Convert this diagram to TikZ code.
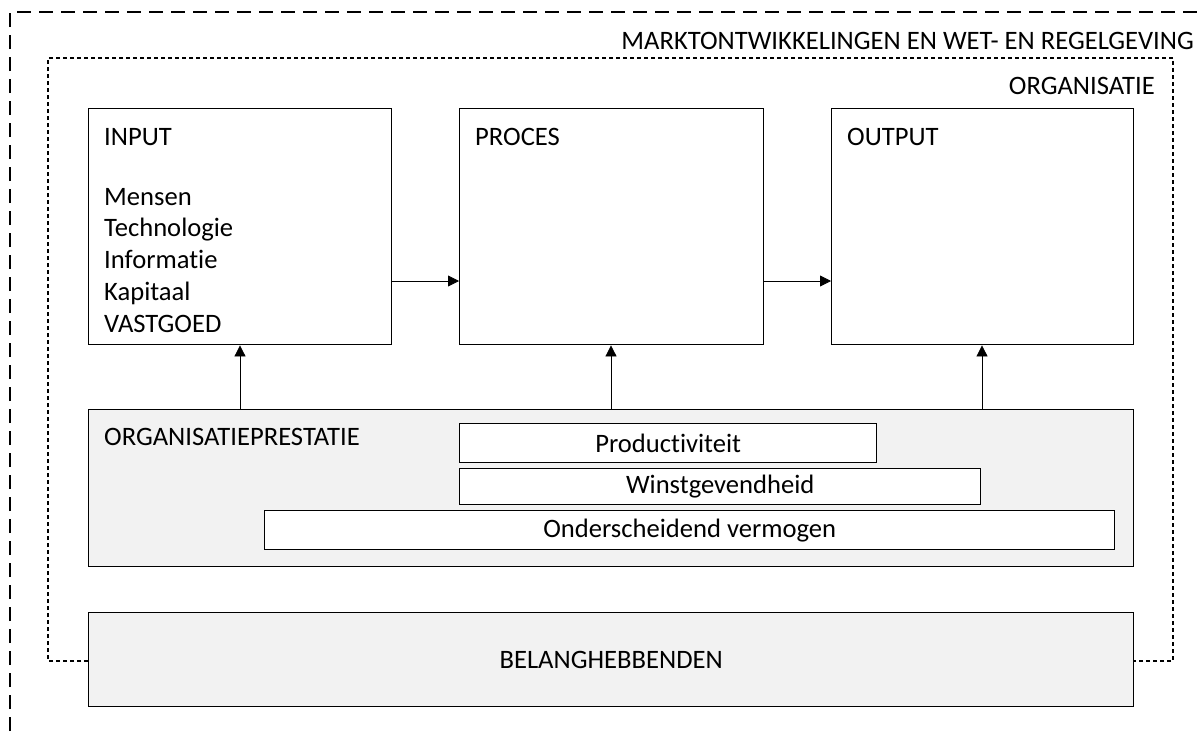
\documentclass[tikz,border=0pt]{standalone}
\usepackage{fontspec}
\setmainfont{Carlito}[Ligatures={NoCommon}]
\usetikzlibrary{arrows.meta}
\definecolor{boxgray}{HTML}{F2F2F2}
\tikzset{
  box/.style={draw=black,line width=1.4pt,fill=white},
  graybox/.style={draw=black,line width=1.4pt,fill=boxgray},
  lbl/.style={font=\fontsize{26.6}{31.7}\selectfont,inner sep=0pt},
  conn/.style={draw=black,line width=0.8pt,-{Triangle[length=11pt,width=11pt]}},
  outerdash/.style={line width=1.4pt,dash pattern=on 14pt off 8pt},
  innerdash/.style={line width=1.4pt,dash pattern=on 4pt off 3pt},
}
\begin{document}
\begin{tikzpicture}[x=1pt,y=-1pt]
\useasboundingbox (0,0) rectangle (1204,731);
% outer frame
\draw[outerdash] (10,731) -- (10,12) -- (1201,12);
\node[lbl,anchor=east] (markt) at (1194,41) {MARKTONTWIKKELINGEN EN WET- EN REGELGEVING};
% inner frame
\coordinate (bl) at (88,661);
\coordinate (br) at (1133,661);
\draw[innerdash] (bl) -- (48,661) -- (48,58) -- (1173,58) -- (1173,661) -- (br);
\node[lbl,anchor=east] (org) at (1155,86) {ORGANISATIE};
% main boxes
\node[box,minimum width=303pt,minimum height=236pt,anchor=north west,inner sep=0pt] (input) at (88,108) {};
\node[box,minimum width=304pt,minimum height=236pt,anchor=north west,inner sep=0pt] (proces) at (459,108) {};
\node[box,minimum width=302pt,minimum height=236pt,anchor=north west,inner sep=0pt] (output) at (831,108) {};
\node[lbl,anchor=west] (inputt) at (104,137) {INPUT};
\node[lbl,anchor=base west,align=left] (inputl) at (104,332) {Mensen\\Technologie\\Informatie\\Kapitaal\\VASTGOED};
\node[lbl,anchor=west] (procest) at (475,137) {PROCES};
\node[lbl,anchor=west] (outputt) at (847,137) {OUTPUT};
\draw[conn] (input.east |- 0,281) -- (proces.west |- 0,281);
\draw[conn] (proces.east |- 0,281) -- (output.west |- 0,281);
% organisatieprestatie
\node[graybox,minimum width=1045pt,minimum height=157pt,anchor=north west,inner sep=0pt] (prest) at (88,409) {};
\node[lbl,anchor=west] (prestt) at (104,437) {ORGANISATIEPRESTATIE};
\node[box,minimum width=417pt,minimum height=39pt,anchor=north west,inner sep=0pt,lbl] (prod) at (459,423) {Productiviteit};
\node[box,minimum width=521pt,minimum height=36pt,anchor=north west,inner sep=0pt,lbl] (winst) at (459,468) {Winstgevendheid};
\node[box,minimum width=850pt,minimum height=39pt,anchor=north west,inner sep=0pt,lbl] (onder) at (264,510) {Onderscheidend vermogen};
\draw[conn] (prest.north -| 240,0) -- (input.south -| 240,0);
\draw[conn] (prest.north -| 611,0) -- (proces.south -| 611,0);
\draw[conn] (prest.north -| 982,0) -- (output.south -| 982,0);
% belanghebbenden
\node[graybox,minimum width=1045pt,minimum height=94pt,anchor=north west,inner sep=0pt,lbl] (belang) at (88,612) {BELANGHEBBENDEN};
\end{tikzpicture}
\end{document}
